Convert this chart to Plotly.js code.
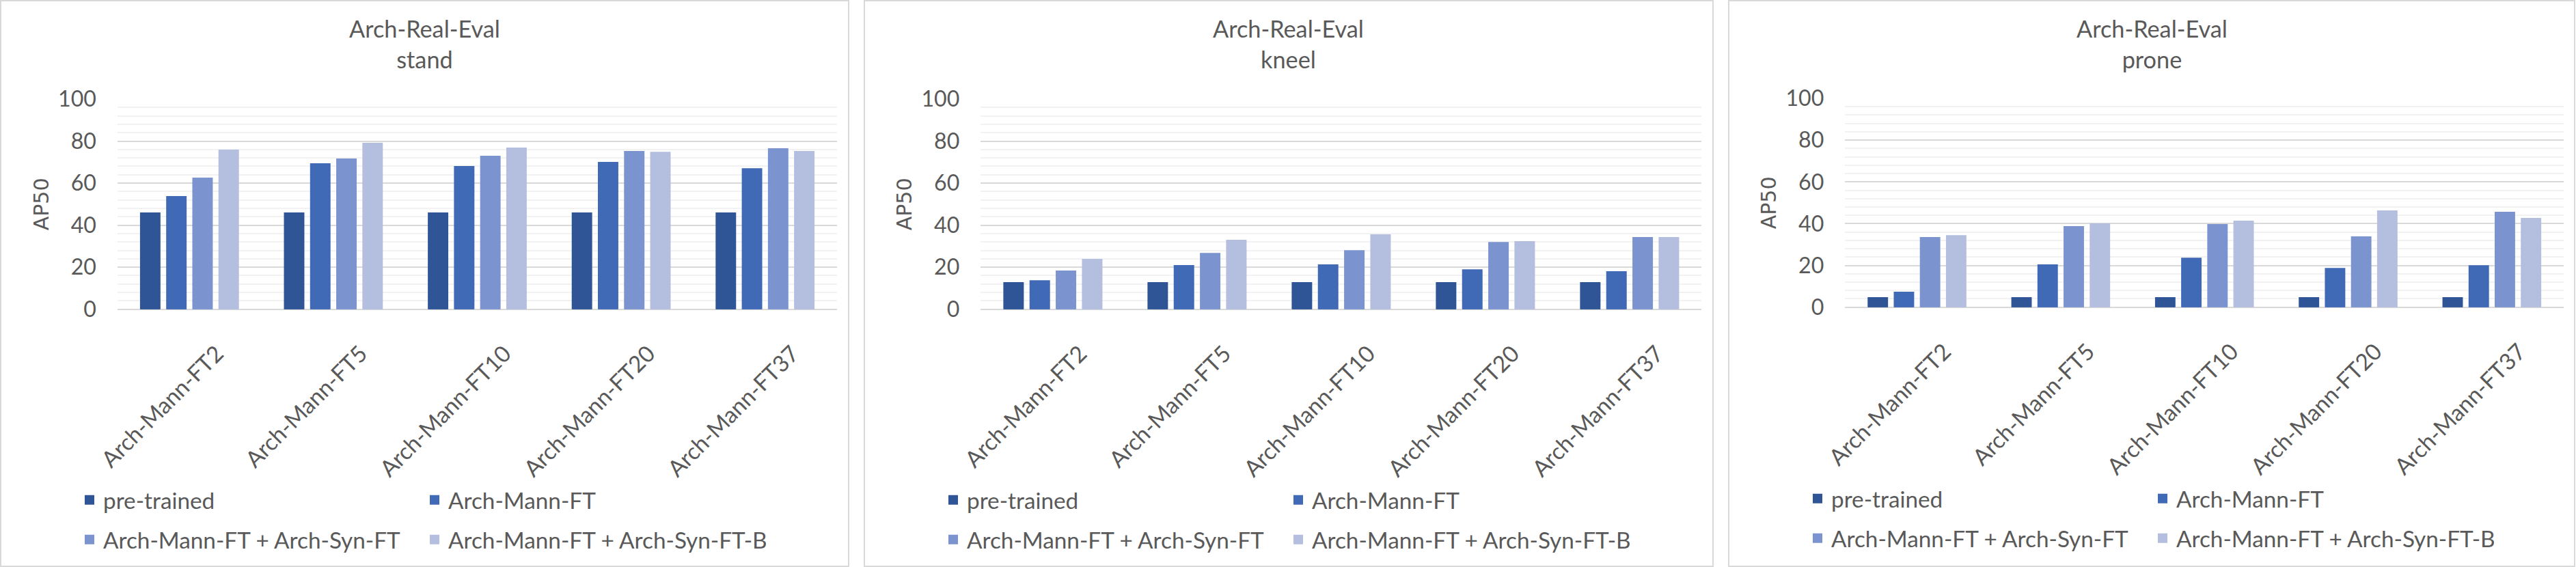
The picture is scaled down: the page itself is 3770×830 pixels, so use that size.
<!DOCTYPE html>
<html><head><meta charset="utf-8">
<script src="https://cdn.plot.ly/plotly-3.0.1.min.js"></script>
<style>html,body{margin:0;padding:0;background:#fff}</style>
</head><body><div id="chart" style="width:3770px;height:830px"></div>
<script>
// ---- data ----
const categories = ['Arch-Mann-FT2', 'Arch-Mann-FT5', 'Arch-Mann-FT10', 'Arch-Mann-FT20', 'Arch-Mann-FT37'];
const seriesNames = ['pre-trained', 'Arch-Mann-FT', 'Arch-Mann-FT + Arch-Syn-FT', 'Arch-Mann-FT + Arch-Syn-FT-B'];
const chartTitle = 'Arch-Real-Eval';
const panelNames = ['stand', 'kneel', 'prone'];
const yTitle = 'AP50';

const standPretrained = [45.7, 45.7, 45.7, 45.7, 45.7];
const standMannFT     = [53.5, 69.1, 67.8, 69.8, 66.8];
const standSynFT      = [62.3, 71.4, 72.7, 75.0, 76.3];
const standSynFTB     = [75.6, 78.9, 76.6, 74.6, 75.0];

const kneelPretrained = [12.6, 12.6, 12.6, 12.6, 12.6];
const kneelMannFT     = [13.5, 20.7, 21.0, 18.7, 17.8];
const kneelSynFT      = [18.1, 26.5, 27.8, 31.7, 34.0];
const kneelSynFTB     = [23.6, 32.7, 35.3, 32.1, 34.0];

const pronePretrained = [4.5, 4.5, 4.5, 4.5, 4.5];
const proneMannFT     = [7.1, 20.2, 23.4, 18.5, 19.8];
const proneSynFT      = [33.3, 38.5, 39.5, 33.6, 45.4];
const proneSynFTB     = [34.2, 39.8, 41.1, 46.0, 42.4];

// ---- styling ----
const W = 3770, H = 830;
const seriesColors = ['#2F5597', '#4069B6', '#7B94CF', '#B4BEDF'];
const textColor = '#595959';
const mainFamily = 'Lato';
const mainFont = 'Lato, "Liberation Sans", sans-serif';
const titleFamily = '"DejaVu Sans"';

// fit font sizes so that text widths match the reference picture
function fitSize(text, family, targetWidth) {
  const ctx = document.createElement('canvas').getContext('2d');
  ctx.font = '100px ' + family;
  const w = ctx.measureText(text).width;
  return w > 0 ? 100 * targetWidth / w : 34;
}
const legendSize = fitSize('Arch-Mann-FT + Arch-Syn-FT-B', mainFamily, 469);
const headSize = fitSize('Arch-Real-Eval', mainFamily, 221);
const tickSize = fitSize('100', mainFamily, 56);
const axTitleSize = fitSize('AP50', titleFamily, 77);

const panelData = [
  [standPretrained, standMannFT, standSynFT, standSynFTB],
  [kneelPretrained, kneelMannFT, kneelSynFT, kneelSynFTB],
  [pronePretrained, proneMannFT, proneSynFT, proneSynFTB]
];

// geometry in pixels (panel boxes and plot areas)
const panelBox = [[1, 1242], [1265, 2507], [2530, 3768]];
const plotX = [[172, 1225], [1435.4, 2490.4], [2700.4, 3752]];
const plotY = [[145, 452.7], [145, 452.7], [144, 449.7]];
const legendRowY = [[732, 790], [732, 790], [730, 788]];

const px = v => v / W;
const py = v => 1 - v / H;

const traces = [];
const layout = {
  width: W, height: H,
  margin: {l: 0, r: 0, t: 0, b: 0, pad: 0},
  paper_bgcolor: '#ffffff', plot_bgcolor: '#ffffff',
  barmode: 'group', bargap: 0.273, bargroupgap: 0.27,
  font: {family: mainFont, size: legendSize, color: textColor},
  showlegend: true,
  shapes: [], annotations: []
};

for (let p = 0; p < 3; p++) {
  const sfx = p === 0 ? '' : String(p + 1);
  for (let s = 0; s < 4; s++) {
    const legIdx = p * 2 + (s < 2 ? 0 : 1);
    traces.push({
      type: 'bar',
      x: categories,
      y: panelData[p][s],
      name: seriesNames[s],
      xaxis: 'x' + sfx, yaxis: 'y' + sfx,
      marker: {color: seriesColors[s], line: {width: 2, color: seriesColors[s]}},
      legend: legIdx === 0 ? 'legend' : 'legend' + (legIdx + 1),
      showlegend: true,
      hoverinfo: 'x+y+name'
    });
  }
  layout['xaxis' + sfx] = {
    domain: [px(plotX[p][0]), px(plotX[p][1])],
    anchor: 'y' + sfx, type: 'category',
    tickangle: -45, ticks: '', showgrid: false, zeroline: false, showline: false,
    tickfont: {family: mainFont, size: legendSize, color: textColor},
    ticklabelstandoff: 38, ticklabelshift: 40, fixedrange: true
  };
  layout['yaxis' + sfx] = {
    domain: [py(plotY[p][1]), py(plotY[p][0])],
    anchor: 'x' + sfx, range: [0, 100],
    tickmode: 'linear', tick0: 0, dtick: 20,
    showgrid: true, gridcolor: '#d9d9d9', gridwidth: 2,
    minor: {dtick: 4, tick0: 0, showgrid: true, gridcolor: '#f2f2f2', gridwidth: 2, ticks: ''},
    zeroline: true, zerolinecolor: '#d9d9d9', zerolinewidth: 2,
    showline: false, ticks: '',
    tickfont: {family: mainFont, size: tickSize, color: textColor},
    ticklabelstandoff: 30,
    title: {text: yTitle, standoff: 4, font: {family: titleFamily + ', sans-serif', size: axTitleSize, color: textColor}},
    fixedrange: true
  };
  // panel border
  layout.shapes.push({
    type: 'rect', xref: 'paper', yref: 'paper',
    x0: px(panelBox[p][0]), x1: px(panelBox[p][1]), y0: py(829), y1: py(1),
    line: {color: '#d9d9d9', width: 2}, fillcolor: 'rgba(0,0,0,0)', layer: 'below'
  });
  // panel title
  layout.annotations.push({
    xref: 'paper', yref: 'paper',
    x: px((panelBox[p][0] + panelBox[p][1]) / 2), y: py(64),
    xanchor: 'center', yanchor: 'middle', showarrow: false,
    text: chartTitle + '<br>' + panelNames[p],
    font: {family: mainFont, size: headSize, color: textColor}
  });
  // legends: two rows per panel
  for (let r = 0; r < 2; r++) {
    const legIdx = p * 2 + r;
    const key = legIdx === 0 ? 'legend' : 'legend' + (legIdx + 1);
    layout[key] = {
      orientation: 'h', xanchor: 'left', yanchor: 'middle',
      x: px(panelBox[p][0] + 110), y: py(legendRowY[p][r]),
      entrywidth: 460, entrywidthmode: 'pixels',
      font: {family: mainFont, size: legendSize, color: textColor},
      bgcolor: 'rgba(0,0,0,0)', borderwidth: 0,
      traceorder: 'normal', itemclick: false, itemdoubleclick: false
    };
  }
}

Plotly.newPlot('chart', traces, layout, {displayModeBar: false, staticPlot: true});
</script>
</body></html>
